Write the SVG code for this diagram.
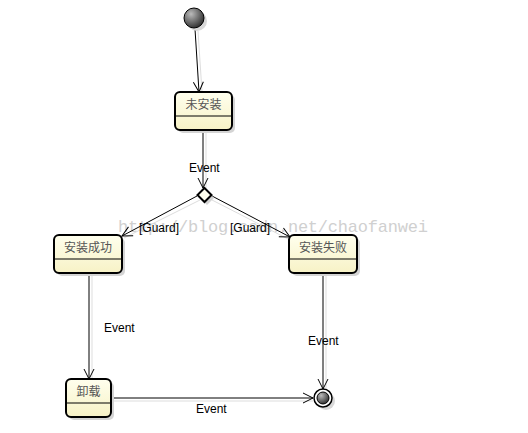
<svg xmlns="http://www.w3.org/2000/svg" width="528" height="433" viewBox="0 0 528 433">
<style>
.box{fill:url(#boxg);stroke:#000;stroke-width:2}
.shadow{fill:#d4d4d4}
.div{stroke:#000;stroke-width:1}
.cn{font-family:"Noto Sans CJK SC","Liberation Sans",sans-serif;font-size:12px;fill:#555;text-anchor:middle}
.lbl{font-family:"Liberation Sans",Arial,sans-serif;font-size:12px;fill:#000}
.edge{stroke:#000;stroke-width:1;fill:none;marker-end:url(#arr)}
.eshadow{stroke:#ddd;stroke-width:1;fill:none}
.wm{font-family:"Liberation Mono","DejaVu Sans Mono",monospace;font-size:17px;fill:#d0d0d0}
</style>
<defs>
<linearGradient id="boxg" x1="0" y1="0" x2="0" y2="1">
<stop offset="0" stop-color="#ffffee"/>
<stop offset="1" stop-color="#f7f2c6"/>
</linearGradient>
<radialGradient id="ball" cx="0.35" cy="0.3" r="0.8">
<stop offset="0" stop-color="#bbb"/>
<stop offset="1" stop-color="#222"/>
</radialGradient>
<marker id="arr" viewBox="0 0 12 12" refX="11" refY="6" markerWidth="12" markerHeight="12" orient="auto" markerUnits="userSpaceOnUse">
<path d="M1,1 L11,6 L1,11" fill="none" stroke="#000" stroke-width="1"/>
</marker>
</defs>
<text class="wm" x="118" y="232" textLength="310">http://blog.csdn.net/chaofanwei</text>
<g id="connectors">
<line class="eshadow" x1="198" y1="31" x2="202" y2="92"/>
<line class="edge" x1="195" y1="29" x2="199" y2="92"/>
<line class="eshadow" x1="206" y1="131" x2="206" y2="188"/>
<line class="edge" x1="203" y1="131" x2="203" y2="188"/>
<text class="lbl" x="189" y="172">Event</text>
<line class="eshadow" x1="200" y1="200" x2="124" y2="238"/>
<line class="edge" x1="197" y1="196" x2="122" y2="236"/>
<text class="lbl" x="139" y="232">[Guard]</text>
<line class="eshadow" x1="212" y1="200" x2="290" y2="240"/>
<line class="edge" x1="212" y1="196" x2="290" y2="237"/>
<text class="lbl" x="230" y="232">[Guard]</text>
<line class="eshadow" x1="92" y1="275" x2="92" y2="380"/>
<line class="edge" x1="89" y1="274" x2="89" y2="379"/>
<text class="lbl" x="104" y="332">Event</text>
<line class="eshadow" x1="326" y1="275" x2="326" y2="389"/>
<line class="edge" x1="323" y1="274" x2="323" y2="389"/>
<text class="lbl" x="308" y="345">Event</text>
<line class="eshadow" x1="112" y1="401" x2="313" y2="401"/>
<line class="edge" x1="112" y1="398" x2="313" y2="398"/>
<text class="lbl" x="196" y="413">Event</text>
</g>
<g id="initial">
<circle cx="197" cy="21" r="10" fill="#d8d8d8"/>
<circle cx="194" cy="18" r="10" fill="url(#ball)" stroke="#000" stroke-width="1"/>
</g>
<g id="n_weianzhuang">
<rect class="shadow" x="178" y="95" width="57" height="38" rx="5"/>
<rect class="box" x="175" y="92" width="57" height="38" rx="5"/>
<line class="div" x1="175" y1="116" x2="232" y2="116"/>
<text class="cn" x="203.5" y="109">未安装</text>
</g>
<g id="decision">
<polygon points="207,191 214,198 207,205 200,198" fill="#d4d4d4"/>
<polygon points="204.5,188 211.5,195 204.5,202 197.5,195" fill="#ffffee" stroke="#000" stroke-width="2"/>
</g>
<g id="n_success">
<rect class="shadow" x="57" y="238" width="68" height="38" rx="5"/>
<rect class="box" x="54" y="235" width="68" height="38" rx="5"/>
<line class="div" x1="54" y1="259" x2="122" y2="259"/>
<text class="cn" x="88" y="252">安装成功</text>
</g>
<g id="n_fail">
<rect class="shadow" x="292" y="238" width="68" height="38" rx="5"/>
<rect class="box" x="289" y="235" width="68" height="38" rx="5"/>
<line class="div" x1="289" y1="259" x2="357" y2="259"/>
<text class="cn" x="323" y="252">安装失败</text>
</g>
<g id="n_uninstall">
<rect class="shadow" x="69" y="382" width="45" height="38" rx="5"/>
<rect class="box" x="66" y="379" width="45" height="38" rx="5"/>
<line class="div" x1="66" y1="403" x2="111" y2="403"/>
<text class="cn" x="88.5" y="396">卸载</text>
</g>
<g id="final">
<circle cx="326" cy="401" r="9" fill="#d8d8d8"/>
<circle cx="323" cy="398" r="9" fill="#fff" stroke="#000" stroke-width="1.5"/>
<circle cx="323" cy="398" r="6" fill="url(#ball)" stroke="#000" stroke-width="1"/>
</g>
</svg>
